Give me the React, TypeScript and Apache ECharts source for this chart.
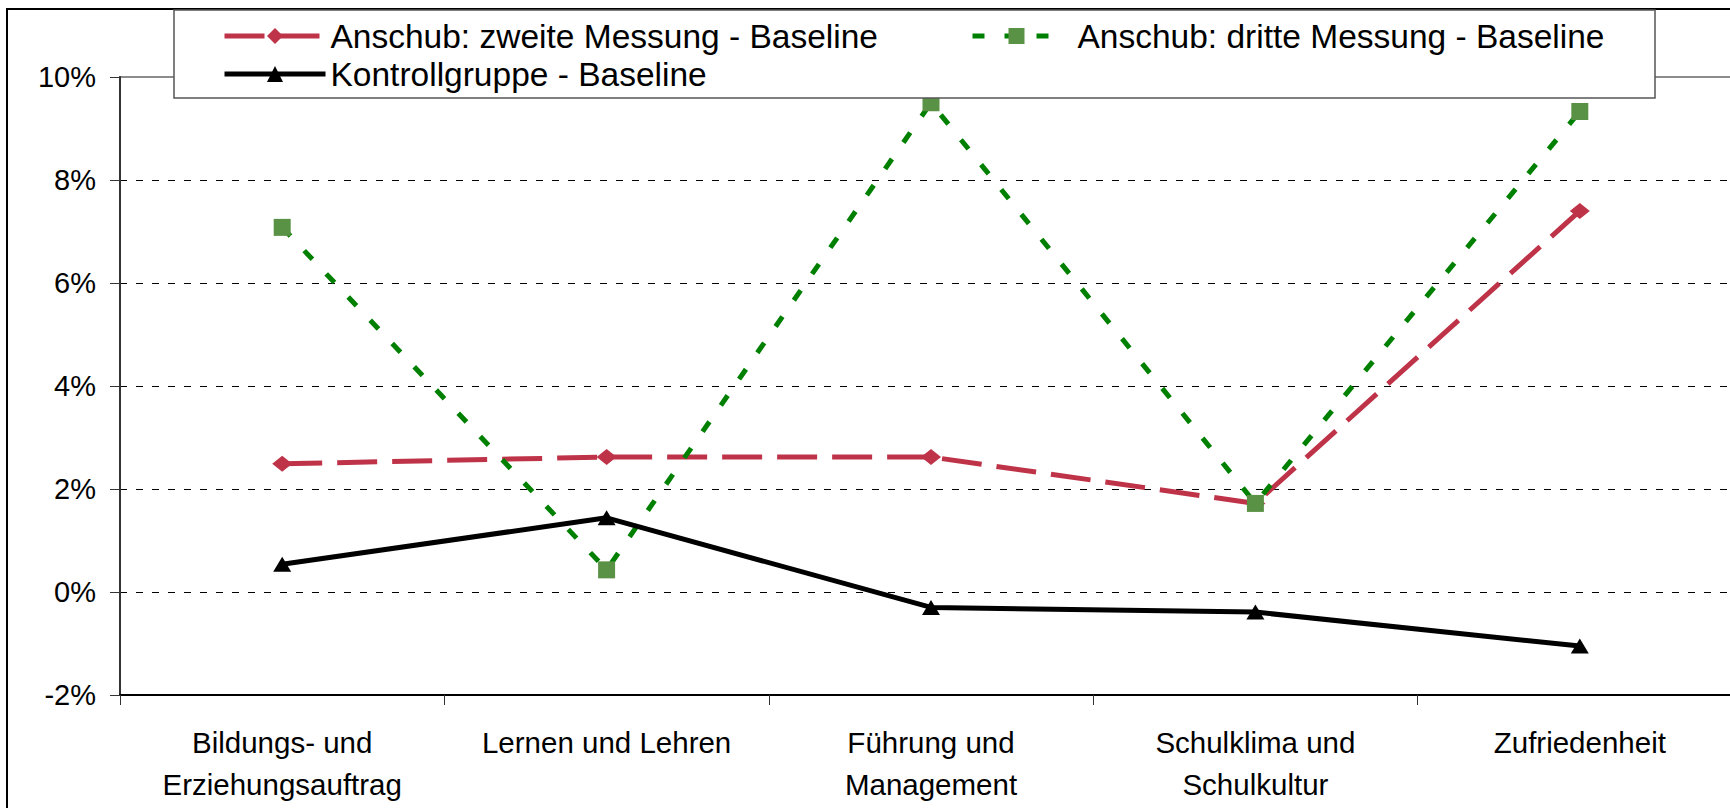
import React, { useEffect, useRef } from "react";
import * as echarts from "echarts";

const categories = [
  "Bildungs- und\nErziehungsauftrag",
  "Lernen und Lehren",
  "Führung und\nManagement",
  "Schulklima und\nSchulkultur",
  "Zufriedenheit",
];
const seriesNames = [
  "Anschub: zweite Messung - Baseline",
  "Anschub: dritte Messung - Baseline",
  "Kontrollgruppe - Baseline",
];
const zweiteMessung = [2.49, 2.62, 2.62, 1.72, 7.4];
const dritteMessung = [7.08, 0.43, 9.5, 1.72, 9.33];
const kontrollgruppe = [0.54, 1.44, -0.3, -0.39, -1.05];
const yMin = -2;
const yMax = 10;
const yInterval = 2;

const FONT = '"Liberation Sans", Arial, sans-serif';
const CHART_W = 1760;

export default function App() {
  const ref = useRef<HTMLDivElement>(null);
  useEffect(() => {
    if (!ref.current) return;
    const chart = echarts.init(ref.current, null, { renderer: "svg" });
    const legendText = { fontFamily: FONT, fontSize: 33.5, color: "#000", lineHeight: 36 };
    const legendCommon = {
      orient: "horizontal",
      itemHeight: 20,
      itemWidth: 101,
      z: 20,
      padding: 0,
      textStyle: legendText,
      lineStyle: { width: 5 },
      selectedMode: false,
    };
    chart.setOption({
      animation: false,
      backgroundColor: "#fff",
      textStyle: { fontFamily: FONT },
      grid: {
        left: 120,
        right: CHART_W - 120 - 1622,
        top: 77,
        bottom: 113,
        show: true,
        borderColor: "#8c8c8c",
        borderWidth: 2,
        backgroundColor: "transparent",
      },
      legend: [
        { ...legendCommon, data: [seriesNames[0]], left: 222, top: 18 },
        {
          ...legendCommon,
          data: [seriesNames[1]],
          left: 970,
          top: 18,
          itemWidth: 88,
          textStyle: { ...legendText, padding: [0, 0, 0, 12] },
        },
        { ...legendCommon, data: [seriesNames[2]], left: 222, top: 56 },
      ],
      xAxis: {
        type: "category",
        data: categories,
        boundaryGap: true,
        axisLine: { show: true, onZero: false, lineStyle: { color: "#000", width: 2 } },
        axisTick: { show: true, length: 10, lineStyle: { color: "#333", width: 1 } },
        axisLabel: {
          fontFamily: FONT,
          fontSize: 29.5,
          color: "#000",
          margin: 26,
          lineHeight: 42,
          interval: 0,
        },
        splitLine: { show: false },
      },
      yAxis: {
        type: "value",
        min: yMin,
        max: yMax,
        interval: yInterval,
        axisLine: { show: true, lineStyle: { color: "#333", width: 2 } },
        axisTick: { show: true, length: 10, lineStyle: { color: "#333", width: 1 } },
        axisLabel: {
          fontFamily: FONT,
          fontSize: 29,
          color: "#000",
          margin: 24,
          formatter: (v: number) => `${v}%`,
        },
        splitLine: {
          show: true,
          showMinLine: false,
          showMaxLine: false,
          lineStyle: { color: "#000", width: 1, type: [7, 9] },
        },
      },
      graphic: [
        {
          type: "rect",
          z: 5,
          silent: true,
          shape: { x: 7, y: 9, width: 1800, height: 900 },
          style: { fill: "none", stroke: "#000", lineWidth: 2 },
        },
        {
          type: "rect",
          z: 10,
          silent: true,
          shape: { x: 174, y: 10, width: 1481, height: 88 },
          style: { fill: "#fff", stroke: "#555", lineWidth: 1.5 },
        },
      ],
      series: [
        {
          name: seriesNames[0],
          type: "line",
          data: zweiteMessung,
          symbol: "diamond",
          symbolSize: [20, 16],
          lineStyle: { color: "#BF3349", width: 5, type: [40, 15] },
          itemStyle: { color: "#BF3349" },
          z: 2,
        },
        {
          name: seriesNames[1],
          type: "line",
          data: dritteMessung,
          symbol: "rect",
          symbolSize: 17,
          lineStyle: { color: "#008000", width: 5, type: [12, 20] },
          itemStyle: { color: "#5A9245" },
          z: 3,
        },
        {
          name: seriesNames[2],
          type: "line",
          data: kontrollgruppe,
          symbol: "triangle",
          symbolSize: [18, 15],
          lineStyle: { color: "#000", width: 5 },
          itemStyle: { color: "#000" },
          z: 4,
        },
      ],
    });
    return () => chart.dispose();
  }, []);
  return (
    <div
      style={{
        position: "absolute",
        left: 0,
        top: 0,
        width: 1730,
        height: 808,
        overflow: "hidden",
      }}
    >
      <div ref={ref} style={{ width: CHART_W, height: 808 }} />
    </div>
  );
}
